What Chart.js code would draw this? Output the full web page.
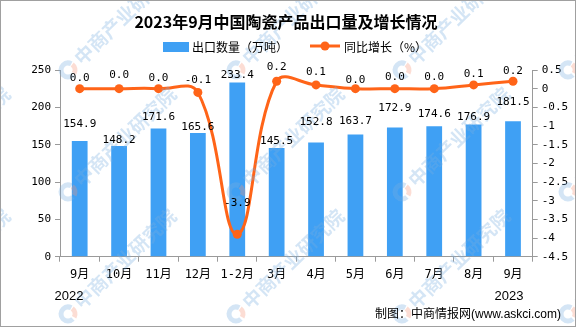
<!DOCTYPE html>
<html>
<head>
<meta charset="utf-8">
<script src="https://cdn.jsdelivr.net/npm/chart.js@4/dist/chart.umd.min.js"></script>
<style>
html,body{margin:0;padding:0;background:#fff;}
#wrap{position:relative;width:576px;height:327px;}
canvas{display:block;}
</style>
</head>
<body>
<div id="wrap"><canvas id="c" width="576" height="327"></canvas></div>
<script>
// ---- data ----
const categories = ['9月','10月','11月','12月','1-2月','3月','4月','5月','6月','7月','8月','9月'];
const exportVolume = [154.9,148.2,171.6,165.6,233.4,145.5,152.8,163.7,172.9,174.6,176.9,181.5];
const yoyGrowth = [0.0,0.0,0.0,-0.1,-3.9,0.2,0.1,0.0,0.0,0.0,0.1,0.2];
const leftTicks = {min:0, max:250, step:50};
const rightTicks = {min:-4.5, max:0.5, step:0.5};
const titleText = '2023年9月中国陶瓷产品出口量及增长情况';
const seriesNames = ['出口数量（万吨）','同比增长（%）'];
const yearLabels = ['2022','2023'];
const sourceText = '制图：中商情报网(www.askci.com)';
const watermarkText = '中商产业研究院';

// ---- style config (label lifts in px) ----
const barLabelLift = [17,6,11,6,7,7,20,13,19,12,7,19];
const lineLabelLift = [11,14,11,12,31,14,13,9,12,12,11,10];
const wmCols = [-98, 68, 236, 402, 568];
const wmRows = [70, 192, 314, 436];
const BLUE = '#3FA0F4';
const ORANGE = '#FF6418';
const AXIS = '#9a9a9a';
const MONO = '"DejaVu Sans Mono","Noto Sans CJK SC",monospace';
const CJK = '"Noto Sans CJK SC",sans-serif';

function drawWatermark(ctx){
  ctx.save();
  ctx.beginPath(); ctx.rect(1,1,574,325); ctx.clip();
  wmCols.forEach(x=>{
    wmRows.forEach(y=>{
      ctx.save();
      ctx.translate(x, y);
      ctx.rotate(-44*Math.PI/180);
      ctx.globalAlpha = 0.32;
      ctx.strokeStyle = 'rgb(120,175,225)';
      ctx.lineWidth = 5;
      ctx.beginPath(); ctx.arc(0,0,7,0.5*Math.PI,1.9*Math.PI); ctx.stroke();
      ctx.strokeStyle = 'rgb(245,150,120)';
      ctx.beginPath(); ctx.arc(0,0,7,-0.05*Math.PI,0.4*Math.PI); ctx.stroke();
      ctx.fillStyle = 'rgb(120,175,225)';
      ctx.font = 'bold 19px ' + CJK;
      ctx.textAlign = 'left';
      ctx.textBaseline = 'middle';
      ctx.fillText(watermarkText, 13, 0);
      ctx.restore();
    });
  });
  ctx.restore();
}

const decor = {
  id:'decor',
  afterDatasetsDraw(chart){
    const ctx = chart.ctx;
    drawWatermark(ctx);
    ctx.save();
    ctx.font = '11px ' + MONO;
    ctx.fillStyle = '#000';
    ctx.textAlign = 'center';
    ctx.textBaseline = 'middle';
    const mb = chart.getDatasetMeta(0);
    mb.data.forEach((el,i)=>{
      ctx.fillText(exportVolume[i].toFixed(1), el.x, el.y - barLabelLift[i]);
    });
    const ml = chart.getDatasetMeta(1);
    ml.data.forEach((el,i)=>{
      ctx.fillText(yoyGrowth[i].toFixed(1), el.x, el.y - lineLabelLift[i]);
    });
    ctx.restore();
  },
  afterDraw(chart){
    const ctx = chart.ctx;
    ctx.save();
    ctx.strokeStyle = '#a0a0a0';
    ctx.lineWidth = 1;
    ctx.strokeRect(0.5,0.5,575,326);
    ctx.fillStyle = '#000';
    ctx.textAlign = 'center';
    ctx.textBaseline = 'middle';
    ctx.font = 'bold 16px ' + CJK;
    ctx.fillText(titleText, 286, 22);
    ctx.fillStyle = BLUE;
    ctx.fillRect(163, 42, 26, 10);
    ctx.fillStyle = '#000';
    ctx.textAlign = 'left';
    ctx.font = '12px ' + CJK;
    ctx.fillText(seriesNames[0], 192, 47);
    ctx.strokeStyle = ORANGE;
    ctx.lineWidth = 3;
    ctx.beginPath(); ctx.moveTo(310,46); ctx.lineTo(340,46); ctx.stroke();
    ctx.fillStyle = ORANGE;
    ctx.beginPath(); ctx.arc(325,46,4.5,0,Math.PI*2); ctx.fill();
    ctx.fillStyle = '#000';
    ctx.fillText(seriesNames[1], 344, 47);
    ctx.font = '13px "Liberation Sans",Arial,sans-serif';
    ctx.textAlign = 'center';
    ctx.fillText(yearLabels[0], 69, 296);
    ctx.fillText(yearLabels[1], 509, 296);
    ctx.font = '12px "Liberation Sans","Noto Sans CJK SC",sans-serif';
    ctx.textAlign = 'right';
    ctx.fillText(sourceText, 561, 315);
    ctx.restore();
  }
};

new Chart(document.getElementById('c'), {
  data:{
    labels: categories,
    datasets:[
      {type:'bar', label:seriesNames[0], data:exportVolume, backgroundColor:BLUE,
       yAxisID:'y', barPercentage:0.4, categoryPercentage:1, order:1},
      {type:'line', label:seriesNames[1], data:yoyGrowth, borderColor:ORANGE, backgroundColor:ORANGE,
       borderWidth:3, pointRadius:4.5, pointBorderWidth:0, pointBackgroundColor:ORANGE,
       tension:0.4, yAxisID:'y1', order:0}
    ]
  },
  options:{
    responsive:false, animation:false,
    layout:{padding:{top:70,left:0,right:0,bottom:0}},
    plugins:{legend:{display:false}, title:{display:false}, tooltip:{enabled:false}},
    scales:{
      x:{
        offset:true,
        grid:{offset:true, drawOnChartArea:false, drawTicks:true, tickLength:5, color:AXIS},
        border:{color:AXIS},
        ticks:{color:'#000', font:{family:MONO, size:12}, padding:6, maxRotation:0, autoSkip:false},
        afterFit(s){ s.height = 70.3; }
      },
      y:{
        position:'left', min:leftTicks.min, max:leftTicks.max,
        grid:{drawOnChartArea:false, tickLength:5, color:AXIS},
        border:{color:AXIS},
        ticks:{stepSize:leftTicks.step, color:'#000', font:{family:MONO, size:11}, padding:4},
        afterFit(s){ s.width = 60; }
      },
      y1:{
        position:'right', min:rightTicks.min, max:rightTicks.max,
        grid:{drawOnChartArea:false, tickLength:5, color:AXIS},
        border:{color:AXIS},
        ticks:{stepSize:rightTicks.step, color:'#000', font:{family:MONO, size:11}, padding:4,
               callback:(v)=>String(Number(Number(v).toFixed(1)))},
        afterFit(s){ s.width = 43.3; }
      }
    }
  },
  plugins:[decor]
});
</script>
</body>
</html>
